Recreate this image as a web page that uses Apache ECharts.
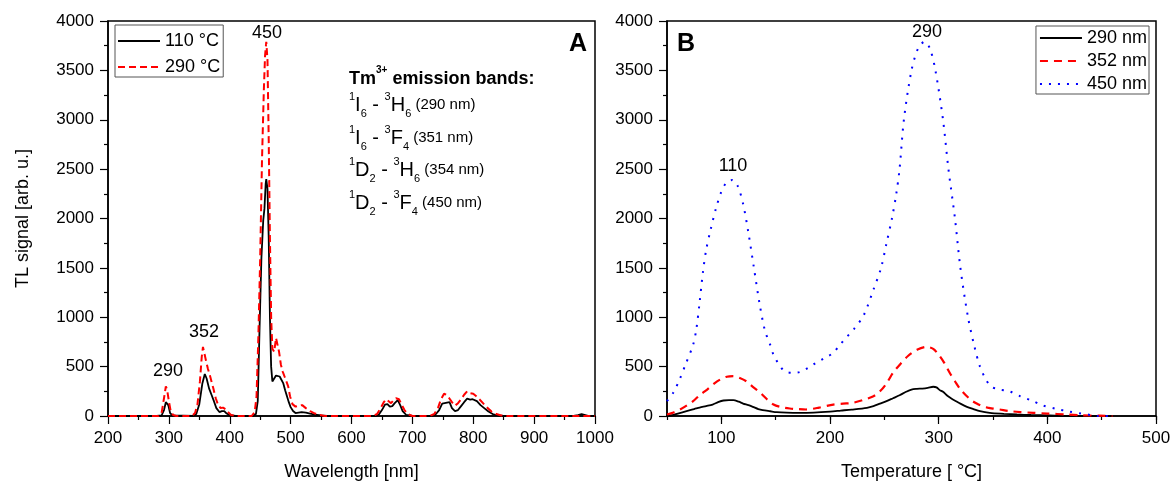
<!DOCTYPE html>
<html><head><meta charset="utf-8">
<script src="https://cdn.jsdelivr.net/npm/echarts@6/dist/echarts.min.js"></script>
<style>html,body{margin:0;padding:0;background:#fff}#c{width:1176px;height:486px}</style>
</head><body><div id="c"></div>
<script>
// Panel A: emission spectra
const wl110 = [200,280,288,292,295,297,299,302,306,340,345,350,355,359,362,366,370,374,378,383,387,391,395,400,410,438,443,446,449,452,455,457,459,460,462,464,466,468,470,473,476,479,482,485,488,491,494,497,500,504,508,513,518,525,532,540,550,560,640,645,650,655,659,663,667,671,676,680,684,690,700,730,738,744,749,753,757,761,765,770,775,780,785,790,795,799,802,806,812,818,825,832,840,850,965,972,978,984,990,1000];
const sig110 = [0,0,5,60,140,150,110,30,5,0,20,120,330,425,380,280,215,150,80,40,50,50,25,8,0,0,20,150,900,1600,1980,2100,2350,2400,2300,1800,1000,500,350,380,410,420,400,380,330,260,200,140,90,50,30,35,40,35,25,15,5,0,0,15,60,115,120,95,100,130,160,110,50,10,0,0,15,60,125,130,135,140,80,50,60,100,140,175,165,170,180,150,110,80,45,20,5,0,0,10,20,10,0,0];
const wl290 = [200,283,288,292,295,297,300,303,307,312,338,343,347,351,354,356,358,361,364,367,370,373,377,381,385,389,393,397,402,410,436,441,444,447,450,453,456,458,460,462,464,466,468,470,473,476,478,481,484,487,490,493,496,499,503,508,514,519,525,532,540,548,556,635,642,648,653,657,661,665,669,673,678,682,687,692,700,728,736,742,747,752,756,760,765,770,775,780,785,790,795,800,805,810,816,822,830,838,846,855,1000];
const sig290 = [0,0,30,180,300,270,150,50,10,0,0,30,120,350,600,700,680,560,480,420,350,280,180,110,80,85,70,40,10,0,0,40,200,800,1600,2600,3300,3650,3790,3600,2800,1800,1000,680,650,790,800,650,520,450,400,380,300,200,120,95,105,110,80,50,25,10,0,0,20,80,140,170,150,130,160,180,170,120,60,20,0,0,20,80,170,225,215,185,140,105,130,170,215,250,230,225,200,170,130,90,45,20,5,0,0];

// Panel B: glow curves
const t290 = [50,55,60,68,75,80,86,92,97,102,107,111,116,120,125,129,134,138,145,151,160,172,185,200,210,220,234,240,246,252,258,264,270,275,280,285,290,295,298,301,304,308,312,316,320,326,332,338,347,360,372,385,402,420,460];
const s290 = [0,8,25,50,70,85,100,116,140,157,160,160,145,126,110,93,70,59,48,39,34,32,35,45,55,65,83,100,125,150,180,210,245,268,275,278,285,296,290,262,245,205,175,150,125,93,70,49,32,22,15,10,5,0,0];
const t352 = [50,56,62,68,74,80,87,93,99,105,111,117,123,129,136,142,148,155,163,170,178,190,203,212,221,230,240,246,252,258,265,272,280,289,295,300,305,310,315,320,325,330,335,340,345,350,356,365,375,387,400,418,430,448,460];
const s352 = [15,35,66,105,150,210,268,325,370,398,403,385,352,295,235,170,116,90,76,70,66,85,116,125,133,160,200,250,330,437,530,610,670,700,680,620,540,440,352,270,210,160,126,100,85,75,66,50,40,32,25,15,8,3,0];
const t450 = [50,56,62,67,74,77,80,83,86,90,95,100,105,110,115,120,125,130,135,140,145,148,152,158,165,172,180,187,194,203,209,215,222,231,240,247,252,257,261,264,268,275,281,287,292,297,304,309,315,320,327,333,338,343,348,355,365,375,387,395,408,420,431,440,447,460];
const s450 = [150,240,380,520,720,880,1150,1450,1680,1880,2100,2270,2370,2390,2330,2150,1850,1500,1150,870,720,620,540,455,437,444,488,538,580,640,720,795,880,1020,1280,1500,1750,2000,2250,2500,3000,3500,3720,3790,3720,3500,3000,2500,2000,1500,1000,700,500,380,300,270,250,200,150,110,73,45,25,10,0,0];

const xTicksB = [100,200,300,400,500];

const FF = '"Liberation Sans", Arial, sans-serif';
const pair = (xs, ys) => xs.map((x, i) => [x, ys[i]]);
const plain = v => String(v);

const axisCommon = {
  axisLine: { onZero: false, lineStyle: { color: '#000', width: 1.5 } },
  axisTick: { inside: false, length: 8, lineStyle: { color: '#000', width: 1.2 } },
  minorTick: { show: true, splitNumber: 2, length: 4, lineStyle: { color: '#000', width: 1.2 } },
  splitLine: { show: false },
  axisLabel: { color: '#000', fontSize: 17, fontFamily: FF, margin: 14, formatter: plain },
  nameTextStyle: { color: '#000', fontSize: 18, fontFamily: FF }
};

const chart = echarts.init(document.getElementById('c'), null, { renderer: 'canvas' });

const supRow = (a, ai, b, c, ci, d, paren) =>
  `{p|${a}}{m|${ai}}{s|${b}}{m| - }{p|${c}}{m|${ci}}{s|${d}}{n| ${paren}}`;
const rich = {
  m: { fontSize: 20, fontFamily: FF, fill: '#000', color: '#000', lineHeight: 28 },
  p: { fontSize: 11, fontFamily: FF, fill: '#000', color: '#000', verticalAlign: 'top' },
  s: { fontSize: 11, fontFamily: FF, fill: '#000', color: '#000', verticalAlign: 'bottom' },
  n: { fontSize: 15, fontFamily: FF, fill: '#000', color: '#000' },
  b: { fontSize: 18, fontWeight: 'bold', fontFamily: FF, fill: '#000', color: '#000', lineHeight: 28 },
  bp: { fontSize: 10, fontWeight: 'bold', fontFamily: FF, fill: '#000', color: '#000', verticalAlign: 'top' }
};
const rowText = (x, y, text) => ({
  type: 'text', left: x, top: y - 13, z: 100,
  style: { text, rich, fill: '#000' }
});
const plainText = (x, y, text, size, bold) => ({
  type: 'text', x, y, z: 100,
  style: { text, fill: '#000', font: `${bold ? 'bold ' : ''}${size}px ${FF}`, textAlign: 'center', textVerticalAlign: 'middle' }
});
const legendCommon = {
  orient: 'vertical', itemWidth: 42, itemHeight: 14,
  borderColor: '#555', borderWidth: 1, backgroundColor: '#fff',
  itemStyle: { color: 'transparent', borderColor: 'transparent', borderWidth: 0, opacity: 0 },
  textStyle: { color: '#000', fontSize: 18, fontFamily: FF }
};

chart.setOption({
  animation: false,
  backgroundColor: '#fff',
  grid: [
    { left: 108, right: 581, top: 21, bottom: 70, show: true, borderColor: '#000', borderWidth: 1.5, backgroundColor: 'transparent' },
    { left: 667, right: 20, top: 21, bottom: 70, show: true, borderColor: '#000', borderWidth: 1.5, backgroundColor: 'transparent' }
  ],
  xAxis: [
    Object.assign({}, axisCommon, { gridIndex: 0, type: 'value', min: 200, max: 1000, interval: 100,
      name: 'Wavelength [nm]', nameLocation: 'middle', nameGap: 47 }),
    Object.assign({}, axisCommon, { gridIndex: 1, type: 'value', min: 50, max: 500, interval: 50,
      name: 'Temperature [ °C]', nameLocation: 'middle', nameGap: 47,
      axisTick: { inside: false, length: 4, lineStyle: { color: '#000', width: 1.2 } },
      minorTick: { show: false },
      axisLabel: Object.assign({}, axisCommon.axisLabel, { customValues: xTicksB }) }),
    { gridIndex: 1, type: 'value', min: 50, max: 500, interval: 50, position: 'bottom',
      axisLine: { show: false }, splitLine: { show: false }, axisLabel: { show: false },
      axisTick: { show: true, length: 8, customValues: xTicksB, lineStyle: { color: '#000', width: 1.2 } } }
  ],
  yAxis: [
    Object.assign({}, axisCommon, { gridIndex: 0, type: 'value', min: 0, max: 4000, interval: 500,
      name: 'TL signal [arb. u.]', nameLocation: 'middle', nameGap: 76, nameRotate: 90 }),
    Object.assign({}, axisCommon, { gridIndex: 1, type: 'value', min: 0, max: 4000, interval: 500 })
  ],
  legend: [
    Object.assign({}, legendCommon, { left: 115, top: 25, itemGap: 8, padding: [7, 3, 1, 2],
      data: ['110 °C', '290 °C'] }),
    Object.assign({}, legendCommon, { right: 27, top: 26, itemGap: 5, padding: [3, 2, 1, 3],
      data: ['290 nm', '352 nm', '450 nm'] })
  ],
  series: [
    { name: '110 °C', type: 'line', xAxisIndex: 0, yAxisIndex: 0, symbol: 'none', data: pair(wl110, sig110),
      lineStyle: { color: '#000', width: 1.8 }, itemStyle: { color: '#000' } },
    { name: '290 °C', type: 'line', xAxisIndex: 0, yAxisIndex: 0, symbol: 'none', data: pair(wl290, sig290),
      lineStyle: { color: '#ff0000', width: 2, type: [7, 4] }, itemStyle: { color: '#ff0000' } },
    { name: '290 nm', type: 'line', xAxisIndex: 1, yAxisIndex: 1, symbol: 'none', smooth: 0.3, data: pair(t290, s290),
      lineStyle: { color: '#000', width: 1.8 }, itemStyle: { color: '#000' } },
    { name: '352 nm', type: 'line', xAxisIndex: 1, yAxisIndex: 1, symbol: 'none', smooth: 0.3, data: pair(t352, s352),
      lineStyle: { color: '#ff0000', width: 2.2, type: [8, 6] }, itemStyle: { color: '#ff0000' } },
    { name: '450 nm', type: 'line', xAxisIndex: 1, yAxisIndex: 1, symbol: 'none', smooth: 0.3, data: pair(t450, s450),
      lineStyle: { color: '#0000ff', width: 2, type: [2, 7] }, itemStyle: { color: '#0000ff' } }
  ],
  graphic: [
    plainText(168, 371, '290', 18),
    plainText(204, 332, '352', 18),
    plainText(267, 33, '450', 18),
    plainText(578, 44, 'A', 25, true),
    plainText(733, 166, '110', 18),
    plainText(927, 32, '290', 18),
    plainText(686, 44, 'B', 25, true),
    rowText(349, 78, '{b|Tm}{bp|3+}{b| emission bands:}'),
    rowText(349, 104, supRow('1', 'I', '6', '3', 'H', '6', '(290 nm)')),
    rowText(349, 137, supRow('1', 'I', '6', '3', 'F', '4', '(351 nm)')),
    rowText(349, 169, supRow('1', 'D', '2', '3', 'H', '6', '(354 nm)')),
    rowText(349, 202, supRow('1', 'D', '2', '3', 'F', '4', '(450 nm)'))
  ]
});
</script>
</body></html>
